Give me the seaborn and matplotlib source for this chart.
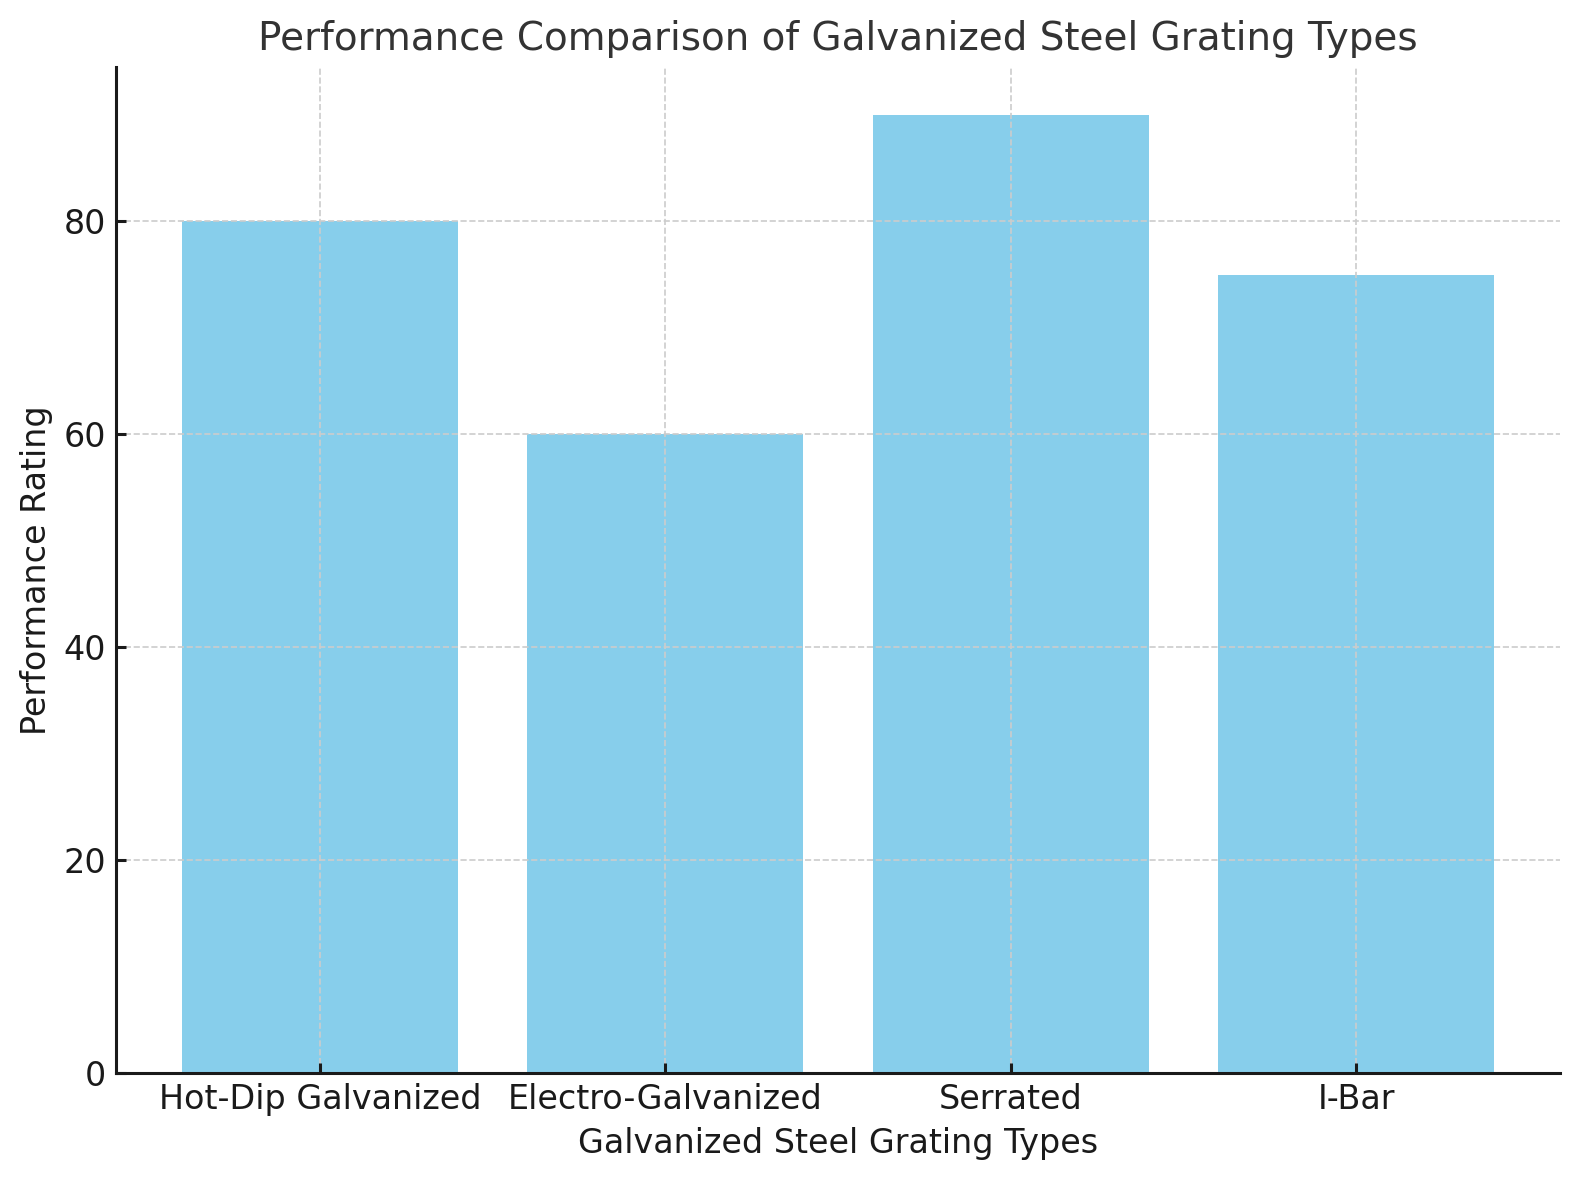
import matplotlib
matplotlib.use("Agg")
import matplotlib.pyplot as plt
import pandas as pd
import seaborn as sns

# data
grating_types = ["Hot-Dip Galvanized", "Electro-Galvanized", "Serrated", "I-Bar"]
ratings = [80, 60, 90, 75]

df = pd.DataFrame({"type": grating_types, "rating": ratings})

plt.rcParams["font.family"] = ["DejaVu Sans"]
plt.rcParams["text.color"] = "#333333"
plt.rcParams["axes.labelcolor"] = "#1a1a1a"
plt.rcParams["xtick.color"] = "#1a1a1a"
plt.rcParams["ytick.color"] = "#1a1a1a"

fig = plt.figure(figsize=(7.9, 5.9), dpi=200)
ax = fig.add_axes([116 / 1580, 1 - 1073 / 1180, (1560 - 116) / 1580, (1073 - 67) / 1180])

sns.barplot(data=df, x="type", y="rating", color="skyblue", saturation=1,
            width=0.8, ax=ax)

ax.set_xlim(-0.59, 3.59)
ax.set_ylim(0, 94.5)
ax.set_title("Performance Comparison of Galvanized Steel Grating Types",
             fontsize=14, color="#333333")
ax.set_xlabel("Galvanized Steel Grating Types", fontsize=12)
ax.set_ylabel("Performance Rating", fontsize=12)
# ticks point into the axes in the reference
ax.tick_params(labelsize=12, width=1.1, direction="in")

# grid drawn above the bars, dashed and light
ax.set_axisbelow(False)
ax.grid(True, linestyle="--", color="#cccccc", linewidth=0.6)

for side in ["top", "right"]:
    ax.spines[side].set_visible(False)
for side in ["left", "bottom"]:
    ax.spines[side].set_color("#1a1a1a")
    ax.spines[side].set_linewidth(1.1)
    ax.spines[side].set_zorder(3)

fig.savefig("out.png", dpi=200)
